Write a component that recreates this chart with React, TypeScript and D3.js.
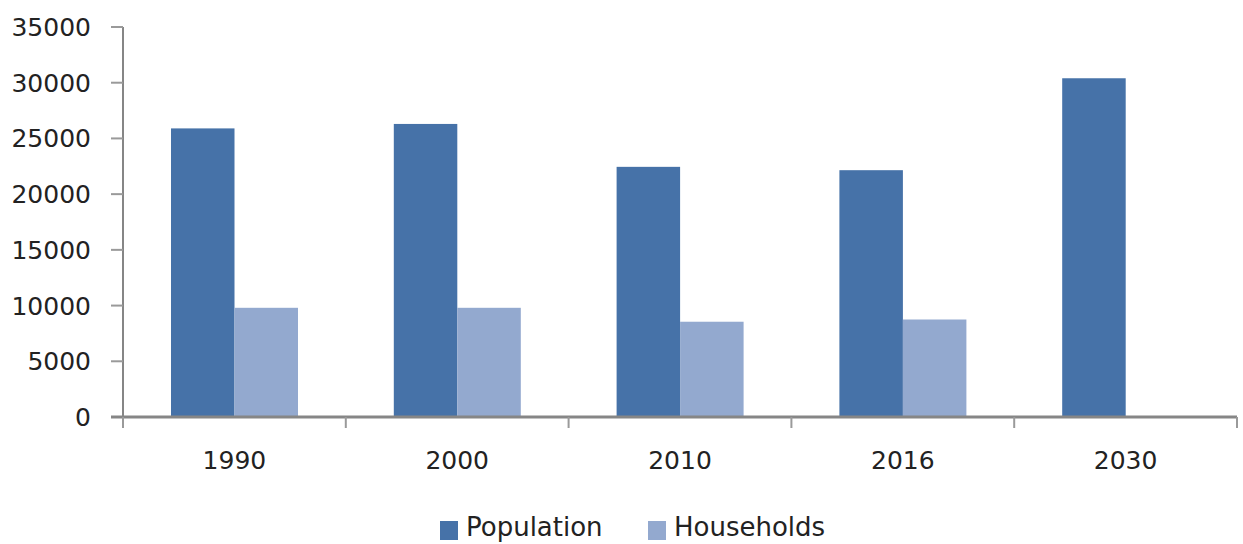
import * as d3 from "d3";

const WIDTH = 1243;
const HEIGHT = 544;
const MARGIN = { top: 27, right: 6, bottom: 127, left: 123 };

const YEARS = ["1990", "2000", "2010", "2016", "2030"];
const SERIES = ["Population", "Households"];
const POPULATION = [25900, 26300, 22450, 22150, 30400];
const HOUSEHOLDS: (number | null)[] = [9800, 9800, 8550, 8750, null];
const Y_TICKS = [0, 5000, 10000, 15000, 20000, 25000, 30000, 35000];
const COLORS = ["#4672A8", "#93A9CF"];

const FONT = "'DejaVu Sans', Verdana, sans-serif";

export default function App() {
  const x0 = d3
    .scaleBand()
    .domain(YEARS)
    .range([MARGIN.left, WIDTH - MARGIN.right])
    .padding(0);

  const x1 = d3
    .scaleBand()
    .domain(SERIES)
    .range([48, 175])
    .padding(0);

  const y = d3
    .scaleLinear()
    .domain([0, 35000])
    .range([HEIGHT - MARGIN.bottom, MARGIN.top]);

  const baseY = y(0);
  const values = [POPULATION, HOUSEHOLDS];
  const boundaries = [...YEARS.map((d) => x0(d)!), x0.range()[1]];

  return (
    <svg
      width={WIDTH}
      height={HEIGHT}
      style={{ position: "absolute", left: 0, top: 0, background: "#fff" }}
    >
      {/* bars */}
      {YEARS.map((year, i) => (
        <g key={year} transform={`translate(${x0(year)},0)`}>
          {SERIES.map((s, j) => {
            const v = values[j][i];
            if (v == null) return null;
            return (
              <rect
                key={s}
                x={x1(s)}
                y={y(v)}
                width={x1.bandwidth()}
                height={baseY - y(v)}
                fill={COLORS[j]}
              />
            );
          })}
        </g>
      ))}

      {/* y axis */}
      <line
        x1={MARGIN.left}
        x2={MARGIN.left}
        y1={y(35000)}
        y2={baseY + 11}
        stroke="#868686"
        strokeWidth={2}
      />
      {Y_TICKS.map((t) => (
        <g key={t}>
          <line
            x1={MARGIN.left - 12}
            x2={MARGIN.left}
            y1={y(t)}
            y2={y(t)}
            stroke="#9a9a9a"
            strokeWidth={2}
          />
          <text
            x={91}
            y={y(t)}
            dy="0.36em"
            textAnchor="end"
            fontFamily={FONT}
            fontSize={25}
            fill="#222"
          >
            {t}
          </text>
        </g>
      ))}

      {/* x axis */}
      <line
        x1={MARGIN.left - 12}
        x2={x0.range()[1]}
        y1={baseY}
        y2={baseY}
        stroke="#868686"
        strokeWidth={3}
      />
      {boundaries.map((bx, i) => (
        <line
          key={i}
          x1={bx}
          x2={bx}
          y1={baseY}
          y2={baseY + 11}
          stroke="#9a9a9a"
          strokeWidth={2}
        />
      ))}
      {YEARS.map((year) => (
        <text
          key={year}
          x={x0(year)! + x0.bandwidth() / 2}
          y={469}
          textAnchor="middle"
          fontFamily={FONT}
          fontSize={25}
          fill="#222"
        >
          {year}
        </text>
      ))}

      {/* legend */}
      {SERIES.map((s, j) => {
        const lx = j === 0 ? 440 : 648;
        return (
          <g key={s}>
            <rect x={lx} y={521} width={18} height={19} fill={COLORS[j]} />
            <text
              x={lx + 26}
              y={536}
              fontFamily={FONT}
              fontSize={26}
              fill="#222"
            >
              {s}
            </text>
          </g>
        );
      })}
    </svg>
  );
}
